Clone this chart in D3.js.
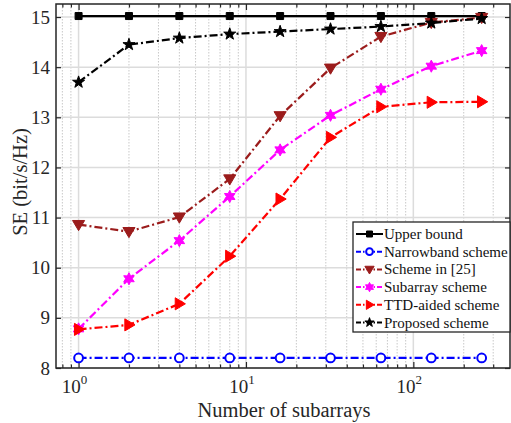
<!DOCTYPE html>
<html><head><meta charset="utf-8">
<script src="https://cdn.jsdelivr.net/npm/d3@7"></script>
<style>body{margin:0;background:#fff}svg{display:block}</style>
</head><body><svg id="c" width="511" height="423"></svg>
<script>
const subarrays = [1, 2, 4, 8, 16, 32, 64, 128, 256];
const upperBound = [15.02, 15.02, 15.02, 15.02, 15.02, 15.02, 15.02, 15.02, 15.02];
const narrowband = [8.2, 8.2, 8.2, 8.2, 8.2, 8.2, 8.2, 8.2, 8.2];
const scheme25 = [10.86, 10.72, 11.01, 11.77, 13.03, 13.98, 14.61, 14.89, 14.99];
const subarrayScheme = [8.78, 9.78, 10.54, 11.42, 12.35, 13.04, 13.56, 14.02, 14.33];
const ttdScheme = [8.77, 8.86, 9.28, 10.23, 11.37, 12.6, 13.21, 13.3, 13.31];
const proposed = [13.7, 14.45, 14.58, 14.66, 14.71, 14.76, 14.81, 14.88, 14.97];
const yTicks = [8, 9, 10, 11, 12, 13, 14, 15];
const xTicks = [1, 10, 100];
const legendLabels = ["Upper bound", "Narrowband scheme", "Scheme in [25]", "Subarray scheme", "TTD-aided scheme", "Proposed scheme"];

const series = [
  {name: legendLabels[0], vals: upperBound, color: "#000000", dash: null, marker: "square"},
  {name: legendLabels[1], vals: narrowband, color: "#0000ff", dash: "8,3,2,3", marker: "circle"},
  {name: legendLabels[2], vals: scheme25, color: "#9b1c1c", dash: "8,3,2,3", marker: "tridown"},
  {name: legendLabels[3], vals: subarrayScheme, color: "#ff00ff", dash: "8,3,2,3", marker: "hexagram"},
  {name: legendLabels[4], vals: ttdScheme, color: "#ff0000", dash: "8,3,2,3", marker: "triright"},
  {name: legendLabels[5], vals: proposed, color: "#000000", dash: "8,3,2,3", marker: "star"}
];

const svg = d3.select("#c");
const L = 56, R = 510, T = 4, B = 368;
const x = d3.scaleLog().domain([0.733, 378]).range([L, R]);
const y = d3.scaleLinear().domain([8, 15.26]).range([B, T]);
const font = "'Liberation Serif','Times New Roman',serif";

// grid
const minor = [];
for (let d = 0.1; d < 1000; d *= 10) for (let k = 2; k <= 9; k++) { const v = d * k; if (v > 0.733 && v < 378) minor.push(v); }
svg.append("g").selectAll("line").data(minor).join("line")
  .attr("x1", d => x(d)).attr("x2", d => x(d)).attr("y1", T).attr("y2", B)
  .attr("stroke", "#c8c8c8").attr("stroke-width", 1).attr("stroke-dasharray", "1.5,1.5");
svg.append("g").selectAll("line").data(xTicks).join("line")
  .attr("x1", d => x(d)).attr("x2", d => x(d)).attr("y1", T).attr("y2", B)
  .attr("stroke", "#dcdcdc").attr("stroke-width", 1.5);
svg.append("g").selectAll("line").data(yTicks).join("line")
  .attr("x1", L).attr("x2", R).attr("y1", d => y(d)).attr("y2", d => y(d))
  .attr("stroke", "#dcdcdc").attr("stroke-width", 1.5);

// axes
const gx = svg.append("g").attr("transform", `translate(0,${B})`)
  .call(d3.axisBottom(x).tickValues(xTicks).tickFormat("").tickSizeInner(-6).tickSizeOuter(0));
const gxm = svg.append("g").attr("transform", `translate(0,${B})`)
  .call(d3.axisBottom(x).tickValues(minor).tickFormat("").tickSizeInner(-3.5).tickSizeOuter(0));
const gxt = svg.append("g").attr("transform", `translate(0,${T})`)
  .call(d3.axisTop(x).tickValues(xTicks).tickFormat("").tickSizeInner(-6).tickSizeOuter(0));
const gxtm = svg.append("g").attr("transform", `translate(0,${T})`)
  .call(d3.axisTop(x).tickValues(minor).tickFormat("").tickSizeInner(-3.5).tickSizeOuter(0));
const gy = svg.append("g").attr("transform", `translate(${L},0)`)
  .call(d3.axisLeft(y).tickValues(yTicks).tickSizeInner(-5).tickSizeOuter(0).tickPadding(6));
const gyr = svg.append("g").attr("transform", `translate(${R},0)`)
  .call(d3.axisRight(y).tickValues(yTicks).tickFormat("").tickSizeInner(-5).tickSizeOuter(0));
[gx, gxm, gxt, gxtm, gy, gyr].forEach(g => {
  g.select(".domain").remove();
  g.selectAll(".tick line").attr("stroke", "#262626").attr("stroke-width", 1.2);
});
gy.selectAll("text").attr("font-family", font).attr("font-size", 19).attr("fill", "#262626");
svg.append("rect").attr("x", L).attr("y", T).attr("width", R - L).attr("height", B - T)
  .attr("fill", "none").attr("stroke", "#262626").attr("stroke-width", 1.5);

// x tick labels with superscript
const xl = svg.append("g").selectAll("text").data(xTicks).join("text")
  .attr("x", d => x(d) - 4).attr("y", 393).attr("text-anchor", "middle")
  .attr("font-family", font).attr("font-size", 19).attr("fill", "#262626");
xl.append("tspan").text("10");
xl.append("tspan").attr("dy", -9).attr("font-size", 13).text(d => Math.round(Math.log10(d)));

svg.append("text").attr("x", 284).attr("y", 417).attr("text-anchor", "middle")
  .attr("font-family", font).attr("font-size", 20.5).attr("fill", "#262626").text("Number of subarrays");
svg.append("text").attr("transform", "translate(27,182) rotate(-90)").attr("text-anchor", "middle")
  .attr("font-family", font).attr("font-size", 20.5).attr("fill", "#262626").text("SE (bit/s/Hz)");

// markers
function markerPath(type, s) {
  if (type === "square") return `M${-s},${-s}H${s}V${s}H${-s}Z`;
  if (type === "tridown") return `M${-s*1.1},${-s*0.75}L${s*1.1},${-s*0.75}L0,${s*1.1}Z`;
  if (type === "triright") return `M${-s*0.75},${-s*1.1}L${s*1.1},0L${-s*0.75},${s*1.1}Z`;
  if (type === "star") {
    let p = ""; for (let i = 0; i < 10; i++) { const r = i % 2 ? s * 0.45 : s * 1.15; const a = -Math.PI/2 + i * Math.PI / 5; p += (i ? "L" : "M") + (r*Math.cos(a)).toFixed(2) + "," + (r*Math.sin(a)).toFixed(2); } return p + "Z";
  }
  if (type === "hexagram") {
    let p = ""; for (let i = 0; i < 12; i++) { const r = i % 2 ? s * 0.6 : s * 1.1; const a = -Math.PI/2 + i * Math.PI / 6; p += (i ? "L" : "M") + (r*Math.cos(a)).toFixed(2) + "," + (r*Math.sin(a)).toFixed(2); } return p + "Z";
  }
  return null;
}
function drawMarker(g, type, color, cx, cy, s) {
  if (type === "circle") {
    g.append("circle").attr("cx", cx).attr("cy", cy).attr("r", s * 0.8)
      .attr("fill", "#fff").attr("stroke", color).attr("stroke-width", 2);
  } else {
    g.append("path").attr("transform", `translate(${cx},${cy})`).attr("d", markerPath(type, s))
      .attr("fill", color).attr("stroke", color).attr("stroke-width", 1);
  }
}

const line = d3.line().x((d, i) => x(subarrays[i])).y(d => y(d));
const plot = svg.append("g");
series.forEach(s => {
  plot.append("path").attr("d", line(s.vals)).attr("fill", "none").attr("stroke", s.color)
    .attr("stroke-width", 2.2).attr("stroke-dasharray", s.dash);
  const mg = plot.append("g");
  s.vals.forEach((v, i) => drawMarker(mg, s.marker, s.color, x(subarrays[i]), y(v), s.marker === "square" ? 3.5 : 5.5));
});

// legend
const lg = svg.append("g");
lg.append("rect").attr("x", 353).attr("y", 222).attr("width", 157).attr("height", 110)
  .attr("fill", "#fff").attr("stroke", "#262626").attr("stroke-width", 1.3);
series.forEach((s, i) => {
  const yy = 234 + i * 17.7;
  lg.append("line").attr("x1", 356).attr("x2", 383).attr("y1", yy).attr("y2", yy)
    .attr("stroke", s.color).attr("stroke-width", 2).attr("stroke-dasharray", s.dash ? "5,2,1.5,2" : null);
  drawMarker(lg, s.marker, s.color, 369.5, yy, s.marker === "square" ? 3 : 4.2);
  lg.append("text").attr("x", 384).attr("y", yy + 5).attr("font-family", font).attr("font-size", 15)
    .attr("fill", "#111").text(s.name);
});
</script></body></html>
